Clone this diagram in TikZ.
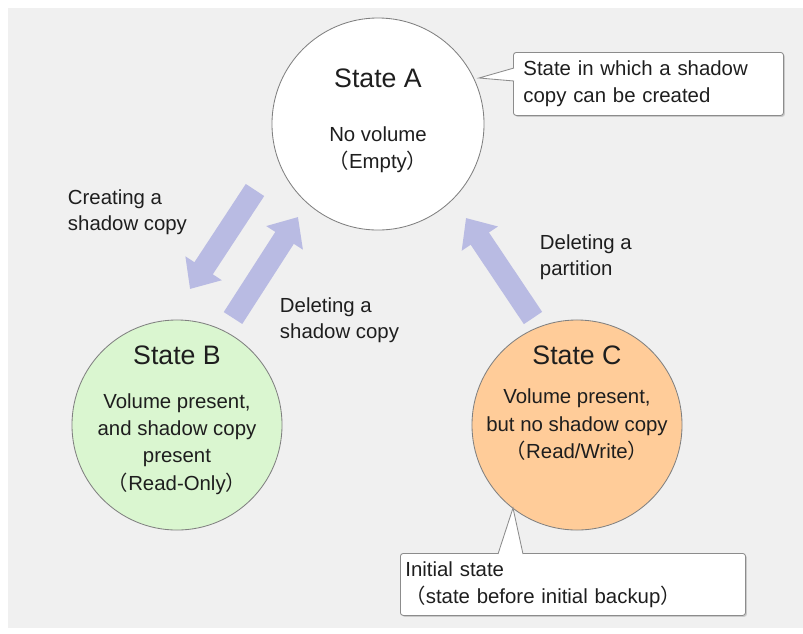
\documentclass[tikz,border=0pt]{standalone}
\usepackage{fontspec}
\setmainfont{Liberation Sans}
\newfontfamily\jpfont{Noto Sans CJK JP}
\usetikzlibrary{arrows.meta,shadows}

\definecolor{panelgray}{HTML}{F0F0F0}
\definecolor{rimgray}{HTML}{808080}
\definecolor{boxgray}{HTML}{8C8C8C}
\definecolor{inkgray}{HTML}{1E1E1E}
\definecolor{flowblue}{HTML}{B9BBE3}
\definecolor{stgreen}{HTML}{DAF6D0}
\definecolor{stpeach}{HTML}{FFCC99}

\newcommand\zlp{{\jpfont （}}
\newcommand\zrp{{\jpfont ）}}

\begin{document}
\begin{tikzpicture}[
		x = 0.025cm, y = -0.025cm,
		st/.style   = {circle, draw=rimgray, line width=0.6pt, minimum size=5.25cm, inner sep=0pt},
		ttl/.style  = {font=\fontsize{19}{22}\selectfont, text=inkgray},
		txt/.style  = {font=\fontsize{14.5}{19.5}\selectfont, text=inkgray, align=center},
		lbl/.style  = {font=\fontsize{14.5}{18.5}\selectfont, text=inkgray, align=left, anchor=west},
		flow/.style = {draw=flowblue, line width=0.55cm, -{Triangle[length=0.62cm, width=1.05cm]}},
		note/.style = {draw=boxgray, fill=white, line width=0.6pt, rounded corners=2pt,
			anchor=north west, align=left, inner ysep=0pt,
			font=\fontsize{14.5}{19}\selectfont, text=inkgray,
			drop shadow={shadow xshift=1pt, shadow yshift=-1pt, fill=black!30, opacity=0.6}},
		ptr/.style  = {draw=boxgray, fill=white, line width=0.6pt}
		]
		\useasboundingbox (0,0) rectangle (803,633);
		\fill[panelgray] (8,8) rectangle (803,628);
		
		% states
		\node[st, fill=white, minimum size=5.3cm] (sA) at (378,124) {};
		\node[st, fill=stgreen] (sB) at (177,425) {};
		\node[st, fill=stpeach] (sC) at (577,425) {};
		
		\node[ttl] (tA) at (378,78)  {State A};
		\node[txt] (bA) at (378,150) {No volume\\\zlp Empty\zrp};
		\node[ttl] (tB) at (177,355) {State B};
		\node[txt] (bB) at (177,444) {Volume present,\\and shadow copy\\present\\\zlp Read-Only\zrp};
		\node[ttl] (tC) at (577,355) {State C};
		\node[txt] (bC) at (577,425) {Volume present,\\but no shadow copy\\\zlp Read/Write\zrp};
		
		% transitions
		\coordinate (a1s) at (255,190);
		\coordinate (a1e) at (190,289);
		\coordinate (a2s) at (233,318);
		\coordinate (a2e) at (298,217);
		\coordinate (a3s) at (533,318);
		\coordinate (a3e) at (466,218);
		\draw[flow] (a1s) -- (a1e);
		\draw[flow] (a2s) -- (a2e);
		\draw[flow] (a3s) -- (a3e);
		
		\node[lbl] (l1) at (63,212)  {Creating a\\shadow copy};
		\node[lbl] (l2) at (275,320) {Deleting a\\shadow copy};
		\node[lbl] (l3) at (535,257) {Deleting a\\partition};
		
		% notes
		\node[note, text width=6.25cm, minimum height=1.575cm, inner xsep=0.25cm] (nA) at (513,52)
			{State in which a shadow\\copy can be created};
		\coordinate (pA) at (479,78);
		\filldraw[ptr] (514,68) -- (pA) -- (514,81);
		
		\node[note, text width=8.375cm, minimum height=1.55cm, inner xsep=0.125cm] (nC) at (400,553)
			{Initial state\\\zlp state before initial backup\zrp};
		\coordinate (pC) at (513,508);
		\filldraw[ptr] (498,554) -- (pC) -- (523,554);
	\end{tikzpicture}
\end{document}
